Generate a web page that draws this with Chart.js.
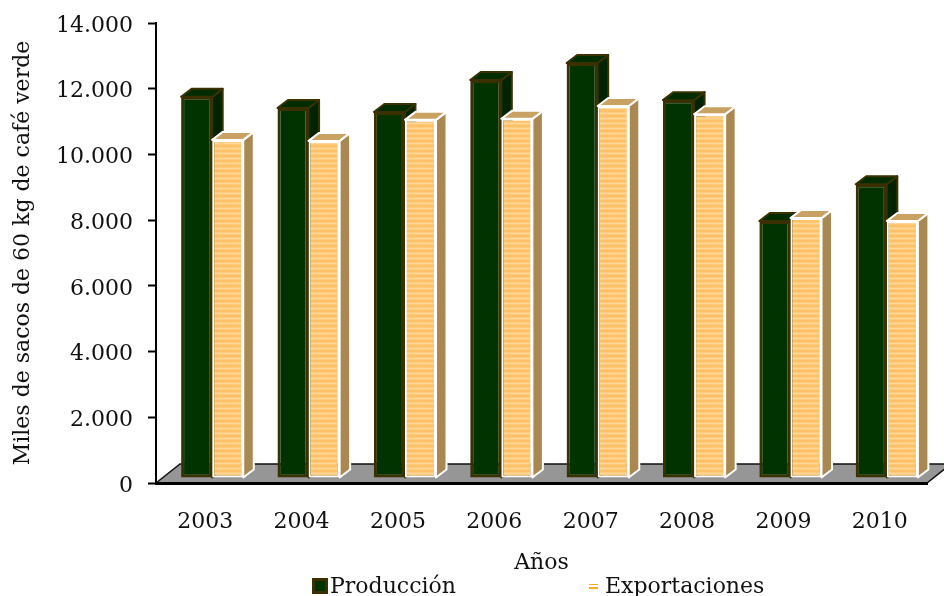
<!DOCTYPE html>
<html>
<head>
<meta charset="utf-8">
<script src="https://cdn.jsdelivr.net/npm/chart.js@4"></script>
<style>
html,body{margin:0;padding:0;background:#fff}
#w{position:relative;width:944px;height:596px;overflow:hidden}
canvas{display:block}
</style>
</head>
<body>
<div id="w"><canvas id="c" width="944" height="596"></canvas></div>
<script>
const years = ["2003","2004","2005","2006","2007","2008","2009","2010"];
const produccion = [11600,11260,11140,12110,12630,11500,7820,8940];
const exportaciones = [10290,10260,10900,10930,11320,11070,7910,7820];
const yTicks = [0,2000,4000,6000,8000,10000,12000,14000];
const FONT = '"DejaVu Serif", serif';

function stripes(){
  const p = document.createElement('canvas');
  p.width = 8; p.height = 5;
  const g = p.getContext('2d');
  g.fillStyle = '#FFCB7C'; g.fillRect(0,0,8,5);
  g.fillStyle = '#FFC066'; g.fillRect(0,0,8,2);
  g.fillStyle = '#FFD699'; g.fillRect(0,3,8,1);
  return document.createElement('canvas').getContext('2d').createPattern(p,'repeat');
}
const DX = 10.5, DY = 8;
const faces = [
  {top:'#002C00', side:'#002400', edge:'#3A3000'},
  {top:'#C9A263', side:'#A98852', edge:'#FFFFFF'}
];
const plugin3d = {
  id:'plugin3d',
  beforeDraw(chart){
    const {ctx, chartArea:a} = chart;
    ctx.save();
    ctx.beginPath();
    ctx.moveTo(a.left,a.bottom);
    ctx.lineTo(a.left+24,a.bottom-19);
    ctx.lineTo(a.right+24,a.bottom-19);
    ctx.lineTo(a.right,a.bottom);
    ctx.closePath();
    ctx.fillStyle='#969696';
    ctx.fill();
    ctx.strokeStyle='#111';
    ctx.lineWidth=1.5;
    ctx.stroke();
    ctx.restore();
  },
  beforeDatasetsDraw(chart){
    const ctx = chart.ctx;
    [0,1].forEach(i=>{
      const f = faces[i], meta = chart.getDatasetMeta(i);
      ctx.save();
      ctx.translate(8,-5);
      meta.data.forEach(b=>{
        const l=b.x-b.width/2, r=b.x+b.width/2, t=b.y, bt=b.base;
        ctx.lineWidth=2; ctx.strokeStyle=f.edge; ctx.lineJoin='round';
        ctx.fillStyle=f.side;
        ctx.beginPath();
        ctx.moveTo(r,t);ctx.lineTo(r+DX,t-DY);ctx.lineTo(r+DX,bt-DY);ctx.lineTo(r,bt);ctx.closePath();
        ctx.fill();ctx.stroke();
        ctx.fillStyle=f.top;
        ctx.beginPath();
        ctx.moveTo(l,t);ctx.lineTo(l+DX,t-DY);ctx.lineTo(r+DX,t-DY);ctx.lineTo(r,t);ctx.closePath();
        ctx.fill();ctx.stroke();
      });
      meta.controller.draw();
      ctx.restore();
    });
    return false;
  },
  afterDraw(chart){
    const ctx = chart.ctx, ds = chart.data.datasets;
    ctx.save();
    ctx.fillStyle='#3A3000'; ctx.fillRect(312,578,16,16);
    ctx.fillStyle='#003300'; ctx.fillRect(315,581,10,10);
    ctx.fillStyle='#FFF'; ctx.fillRect(589,582,9,9);
    ctx.fillStyle='#FFA726'; ctx.fillRect(589,584,9,1); ctx.fillRect(589,587,9,2);
    ctx.fillStyle='#111';
    ctx.font='22px '+FONT;
    ctx.textBaseline='alphabetic';
    ctx.fillText(ds[0].label,330,593);
    ctx.fillText(ds[1].label,605,593);
    ctx.restore();
  }
};
new Chart(document.getElementById('c'),{
  type:'bar',
  data:{
    labels:years,
    datasets:[
      {label:'Producción',data:produccion,backgroundColor:'#003300',borderColor:'#3A3000',borderWidth:3,borderSkipped:false,
       categoryPercentage:0.645,barPercentage:1},
      {label:'Exportaciones',data:exportaciones,backgroundColor:stripes(),borderColor:'#FFFFFF',borderWidth:2,borderSkipped:false,
       categoryPercentage:0.645,barPercentage:1}
    ]
  },
  options:{
    responsive:false,animation:false,
    layout:{padding:{top:23,right:17,left:0,bottom:0}},
    plugins:{legend:{display:false},tooltip:{enabled:false},title:{display:false}},
    scales:{
      x:{
        afterFit:s=>{s.height=113;s.paddingLeft=0;s.paddingRight=0;},
        grid:{display:true,drawOnChartArea:false,drawTicks:false},
        border:{color:'#000',width:3},
        ticks:{color:'#111',font:{family:FONT,size:22},padding:26,maxRotation:0,labelOffset:1},
        title:{display:true,text:'Años',color:'#111',font:{family:FONT,size:22},padding:{top:0,bottom:20}}
      },
      y:{
        min:0,max:14000,
        afterFit:s=>{s.width=156;s.paddingTop=0;s.paddingBottom=0;},
        afterBuildTicks:s=>{s.ticks=yTicks.map(v=>({value:v}));},
        grid:{drawOnChartArea:false,drawTicks:true,tickLength:8,tickColor:'#000',tickWidth:2},
        border:{color:'#000',width:2},
        ticks:{color:'#111',font:{family:FONT,size:22},padding:15,labelOffset:3,
          callback:v=>String(v).replace(/\B(?=(\d{3})+$)/g,'.')},
        title:{display:true,text:'Miles de sacos de 60 kg de café verde',color:'#111',font:{family:FONT,size:22},padding:{top:10,bottom:0}}
      }
    }
  },
  plugins:[plugin3d]
});
</script>
</body>
</html>
